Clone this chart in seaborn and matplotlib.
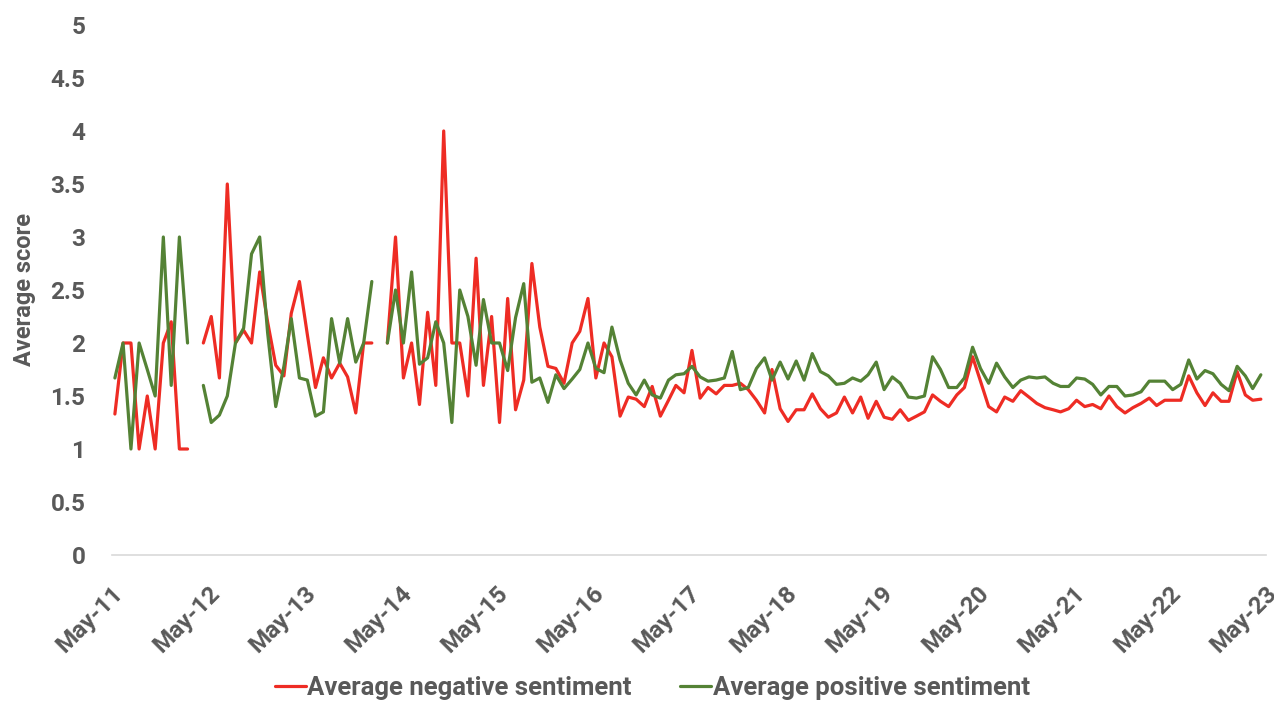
import numpy as np
import pandas as pd
import matplotlib
matplotlib.use("Agg")
import matplotlib.pyplot as plt
import matplotlib.dates as mdates
import matplotlib.transforms as mtransforms
from matplotlib.lines import Line2D
import seaborn as sns

# monthly averages, May-2011 .. Apr-2023 (nan = month with no data)
nan = np.nan
negative = [
    1.33, 2.0, 2.0, 1.0, 1.5, 1.0, 2.0, 2.2, 1.0, 1.0, nan, 2.0,
    2.25, 1.67, 3.5, 2.0, 2.12, 2.0, 2.67, 2.2, 1.79, 1.69, 2.28, 2.58,
    2.08, 1.58, 1.86, 1.67, 1.81, 1.68, 1.34, 2.0, 2.0, nan, 2.0, 3.0,
    1.67, 2.0, 1.42, 2.29, 1.6, 4.0, 2.0, 2.0, 1.5, 2.8, 1.6, 2.25,
    1.25, 2.42, 1.37, 1.65, 2.75, 2.15, 1.78, 1.76, 1.62, 2.0, 2.11, 2.42,
    1.67, 2.0, 1.87, 1.31, 1.49, 1.47, 1.40, 1.59, 1.31, 1.46, 1.60, 1.53,
    1.93, 1.48, 1.58, 1.52, 1.6, 1.6, 1.62, 1.56, 1.46, 1.34, 1.75, 1.38,
    1.26, 1.37, 1.37, 1.52, 1.38, 1.30, 1.34, 1.49, 1.34, 1.49, 1.29, 1.45,
    1.30, 1.28, 1.37, 1.27, 1.31, 1.35, 1.51, 1.45, 1.40, 1.51, 1.58, 1.87,
    1.64, 1.40, 1.35, 1.49, 1.45, 1.55, 1.49, 1.43, 1.39, 1.37, 1.35, 1.38,
    1.46, 1.40, 1.42, 1.38, 1.50, 1.40, 1.34, 1.39, 1.43, 1.48, 1.41, 1.46,
    1.46, 1.46, 1.69, 1.53, 1.41, 1.53, 1.45, 1.45, 1.73, 1.51, 1.46, 1.47,
]
positive = [
    1.67, 2.0, 1.0, 2.0, 1.75, 1.5, 3.0, 1.6, 3.0, 2.0, nan, 1.6,
    1.25, 1.32, 1.5, 2.0, 2.14, 2.84, 3.0, 2.1, 1.4, 1.78, 2.23, 1.67,
    1.65, 1.31, 1.35, 2.23, 1.81, 2.23, 1.82, 2.0, 2.58, nan, 2.0, 2.5,
    2.0, 2.67, 1.8, 1.86, 2.2, 2.0, 1.25, 2.5, 2.25, 1.79, 2.41, 2.0,
    2.0, 1.74, 2.24, 2.56, 1.63, 1.67, 1.44, 1.70, 1.57, 1.66, 1.75, 2.0,
    1.76, 1.72, 2.15, 1.84, 1.62, 1.51, 1.65, 1.51, 1.48, 1.65, 1.70, 1.71,
    1.78, 1.68, 1.64, 1.65, 1.67, 1.92, 1.56, 1.58, 1.76, 1.86, 1.65, 1.82,
    1.66, 1.83, 1.65, 1.90, 1.73, 1.69, 1.61, 1.62, 1.67, 1.64, 1.70, 1.82,
    1.56, 1.68, 1.62, 1.49, 1.48, 1.50, 1.87, 1.75, 1.58, 1.58, 1.67, 1.96,
    1.76, 1.62, 1.81, 1.68, 1.58, 1.65, 1.68, 1.67, 1.68, 1.62, 1.59, 1.59,
    1.67, 1.66, 1.61, 1.51, 1.59, 1.59, 1.50, 1.51, 1.54, 1.64, 1.64, 1.64,
    1.56, 1.61, 1.84, 1.66, 1.74, 1.71, 1.61, 1.55, 1.78, 1.69, 1.57, 1.70,
]
# points sit a little after the 1st of the month on the date axis
dates = pd.date_range("2011-05-01", periods=len(negative), freq="MS") + pd.Timedelta(days=12)
labels = ["Average negative sentiment", "Average positive sentiment"]
colors = ["#EE2C24", "#548235"]

# long format, with a segment id so gaps are not bridged
frames = []
for lab, vals in zip(labels, [negative, positive]):
    d = pd.DataFrame({"date": dates, "score": vals, "series": lab})
    d["segment"] = d["score"].isna().cumsum()
    frames.append(d.dropna())
df = pd.concat(frames, ignore_index=True)

sns.set_style("white")
plt.rcParams["font.family"] = ["Roboto", "DejaVu Sans"]
grey = "#595959"

fig = plt.figure(figsize=(12.74, 7.02), dpi=100)
ax = fig.add_axes([0.0877, 0.2094, 0.9057, 0.7550])

sns.lineplot(data=df, x="date", y="score", hue="series", units="segment",
             estimator=None, palette=dict(zip(labels, colors)),
             linewidth=2.3, legend=False, ax=ax)

ax.set_xlim(pd.Timestamp("2011-05-01"), pd.Timestamp("2023-05-01"))
ax.set_ylim(0, 5)
ax.set_yticks(np.arange(0, 5.01, 0.5))
ax.set_yticklabels(["{:g}".format(v) for v in np.arange(0, 5.01, 0.5)])
ax.xaxis.set_major_locator(mdates.MonthLocator(bymonth=5, bymonthday=1))
ax.xaxis.set_major_formatter(mdates.DateFormatter("%b-%y"))

for s in ["top", "right", "left"]:
    ax.spines[s].set_visible(False)
ax.spines["bottom"].set_color("#d9d9d9")
ax.spines["bottom"].set_linewidth(1.2)

ax.tick_params(axis="y", length=0, pad=19, labelsize=17.5, labelcolor=grey)
ax.tick_params(axis="x", length=6.5, width=1.2, color="#d9d9d9", pad=4,
               labelsize=17.5, labelcolor=grey)
# drop the slanted date labels a little lower, as in Excel
shift = mtransforms.ScaledTranslation(0.0, -0.12, fig.dpi_scale_trans)
for t in ax.get_xticklabels():
    t.set_rotation(45)
    t.set_ha("right")
    t.set_va("top")
    t.set_rotation_mode("anchor")
    t.set_fontweight("bold")
    t.set_transform(t.get_transform() + shift)
for t in ax.get_yticklabels():
    t.set_fontweight("bold")

ax.set_xlabel("")
ax.set_ylabel("Average score", fontsize=17, color=grey, fontweight="bold")
ax.yaxis.set_label_coords(-0.066, 0.5)

handles = [Line2D([], [], color=c, lw=2.3) for c in colors]
fig.legend(handles, labels, loc="center", bbox_to_anchor=(0.512, 1 - 688 / 702),
           ncol=2, frameon=False, handlelength=1.2, handletextpad=0.05,
           columnspacing=1.9, prop={"size": 18.5, "weight": "bold"},
           labelcolor=grey)

fig.savefig("out.png", dpi=100)
